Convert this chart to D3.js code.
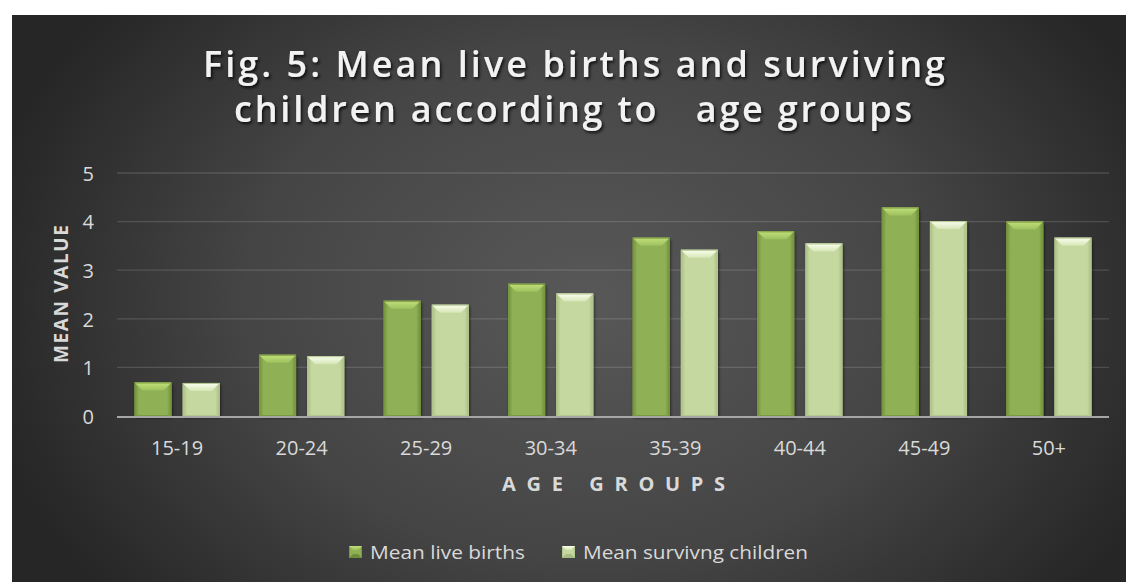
<!DOCTYPE html>
<html><head><meta charset="utf-8">
<script src="https://cdn.jsdelivr.net/npm/d3@7"></script>
<style>
html,body{margin:0;padding:0;background:#fff;}
svg{display:block;}
</style></head>
<body>
<svg id="chart" width="1126" height="582"></svg>
<script>
const categories = ["15-19","20-24","25-29","30-34","35-39","40-44","45-49","50+"];
const liveBirths = [0.69, 1.26, 2.37, 2.72, 3.67, 3.80, 4.29, 4.00];
const survivingChildren = [0.68, 1.23, 2.29, 2.52, 3.42, 3.55, 4.01, 3.67];
const seriesNames = ["Mean live births", "Mean survivng children"];
const yTicks = [0,1,2,3,4,5];
const titleLines = ["Fig. 5: Mean live births and surviving", "children according to   age groups"];

const svg = d3.select("#chart");
const W = 1126, H = 582;
const bg = {x:12, y:15, w:W-12, h:H-15};
const plot = {left:117, right:1109, top:173, bottom:416};

const defs = svg.append("defs");
const rg = defs.append("radialGradient").attr("id","bgGrad")
  .attr("gradientUnits","userSpaceOnUse").attr("cx",590).attr("cy",300).attr("r",620)
  .attr("gradientTransform","translate(590,300) scale(1,0.75) translate(-590,-300)");
rg.append("stop").attr("offset","0").attr("stop-color","#585858");
rg.append("stop").attr("offset","0.55").attr("stop-color","#454545");
rg.append("stop").attr("offset","1").attr("stop-color","#262626");

function barGrads(id, edge, mid, topHi, topLo){
  const g = defs.append("linearGradient").attr("id",id).attr("x1","0").attr("x2","1").attr("y1","0").attr("y2","0");
  g.append("stop").attr("offset","0").attr("stop-color",edge);
  g.append("stop").attr("offset","0.12").attr("stop-color",mid);
  g.append("stop").attr("offset","0.88").attr("stop-color",mid);
  g.append("stop").attr("offset","1").attr("stop-color",edge);
  const t = defs.append("linearGradient").attr("id",id+"Top").attr("x1","0").attr("x2","0").attr("y1","0").attr("y2","1");
  t.append("stop").attr("offset","0").attr("stop-color",topHi);
  t.append("stop").attr("offset","1").attr("stop-color",topLo);
}
barGrads("g0","#6f8d3a","#8fb054","#c2e07a","#9ec15e");
barGrads("g1","#a7bb82","#c4d89f","#fbfff0","#d6e6b6");

const shadow = defs.append("filter").attr("id","tshadow").attr("x","-10%").attr("y","-30%").attr("width","120%").attr("height","160%");
shadow.append("feDropShadow").attr("dx",1.5).attr("dy",2).attr("stdDeviation",1.5).attr("flood-color","#000").attr("flood-opacity",0.8);
const bshadow = defs.append("filter").attr("id","bshadow").attr("x","-20%").attr("y","-10%").attr("width","140%").attr("height","120%");
bshadow.append("feDropShadow").attr("dx",1).attr("dy",2).attr("stdDeviation",1.5).attr("flood-color","#000").attr("flood-opacity",0.55);

svg.append("rect").attr("x",bg.x).attr("y",bg.y).attr("width",bg.w).attr("height",bg.h).attr("fill","url(#bgGrad)");

// Title
const title = svg.append("g").attr("filter","url(#tshadow)");
title.append("text").attr("x",203).attr("y",77)
  .attr("font-family","Open Sans").attr("font-weight",600).attr("font-size",36)
  .attr("fill","#f2f2f2").attr("textLength",742).attr("lengthAdjust","spacing").text(titleLines[0]);
title.append("text").attr("x",234).attr("y",122)
  .attr("font-family","Open Sans").attr("font-weight",600).attr("font-size",36)
  .attr("fill","#f2f2f2").attr("textLength",678).attr("lengthAdjust","spacing").attr("xml:space","preserve").text(titleLines[1]);

const x = d3.scaleBand().domain(categories).range([plot.left, plot.right]).paddingInner(0.315).paddingOuter(0.14);
const xs = d3.scaleBand().domain([0,1]).range([0, x.bandwidth()]).paddingInner(0.23);
const y = d3.scaleLinear().domain([0,5]).range([plot.bottom, plot.top]);

// gridlines
svg.append("g").selectAll("line").data(yTicks.filter(d=>d>0)).join("line")
  .attr("x1",plot.left).attr("x2",plot.right).attr("y1",d=>y(d)).attr("y2",d=>y(d))
  .attr("stroke","#ffffff").attr("stroke-opacity",0.14).attr("stroke-width",1.3);

// y axis labels
const yAxis = d3.axisLeft(y).tickValues(yTicks).tickSize(0).tickPadding(0).tickFormat(d3.format("d"));
const ya = svg.append("g").attr("transform",`translate(${plot.left-23},0)`).call(yAxis);
ya.select(".domain").remove();
ya.selectAll("text").attr("font-family","Open Sans").attr("font-size",20).attr("fill","#d9d9d9").attr("dy","0.36em");

// bars
const data = categories.map((c,i)=>({c, vals:[liveBirths[i], survivingChildren[i]]}));
const groups = svg.append("g").selectAll("g").data(data).join("g")
  .attr("transform",d=>`translate(${x(d.c)},0)`);
groups.each(function(d){
  const g = d3.select(this);
  d.vals.forEach((v,k)=>{
    const bx = xs(k), bw = xs.bandwidth(), by = y(v), bh = y(0)-y(v);
    const bev = Math.min(8, bh/2);
    const b = g.append("g");
    b.append("rect").attr("x",bx).attr("y",by).attr("width",bw).attr("height",bh)
      .attr("fill",`url(#g${k})`).attr("filter","url(#bshadow)");
    b.append("path").attr("d",`M${bx},${by}L${bx+bw},${by}L${bx+bw-bev},${by+bev}L${bx+bev},${by+bev}Z`)
      .attr("fill",`url(#g${k}Top)`);
    b.append("rect").attr("x",bx+0.5).attr("y",by+0.5).attr("width",bw-1).attr("height",bh-1)
      .attr("fill","none").attr("stroke",k===0?"#7a9a40":"#b3c78e").attr("stroke-width",1);
  });
});

// zero axis line
svg.append("line").attr("x1",plot.left).attr("x2",plot.right).attr("y1",y(0)+1).attr("y2",y(0)+1)
  .attr("stroke","#a6a6a6").attr("stroke-width",2.2);

// x axis labels
const xAxis = d3.axisBottom(x).tickSize(0).tickPadding(0);
const xa = svg.append("g").attr("transform",`translate(0,${plot.bottom+39})`).call(xAxis);
xa.select(".domain").remove();
xa.selectAll("text").attr("font-family","Open Sans").attr("font-size",20).attr("fill","#d9d9d9").attr("dy","0");

// axis titles
svg.append("text").attr("x",502).attr("y",491)
  .attr("font-family","Open Sans").attr("font-weight","bold").attr("font-size",20)
  .attr("fill","#d9d9d9").attr("textLength",223).attr("lengthAdjust","spacing").text("AGE GROUPS");
svg.append("text").attr("transform","translate(68,294) rotate(-90)").attr("text-anchor","middle")
  .attr("font-family","Open Sans").attr("font-weight","bold").attr("font-size",19)
  .attr("fill","#d9d9d9").attr("textLength",138).attr("lengthAdjust","spacing").text("MEAN VALUE");

// legend
const legendX = [349, 562];
const legendW = [155, 225];
const lg = svg.append("g").selectAll("g").data(seriesNames).join("g")
  .attr("transform",(d,i)=>`translate(${legendX[i]},546)`);
lg.append("rect").attr("width",13).attr("height",12).attr("fill",(d,i)=>`url(#g${i})`);
lg.append("path").attr("d","M0,0L13,0L9,4L4,4Z").attr("fill",(d,i)=>`url(#g${i}Top)`);
lg.append("path").attr("d","M0,12L13,12L9,8L4,8Z").attr("fill",(d,i)=>i===0?"#6f8d3a":"#a7bb82");
lg.append("text").attr("x",21).attr("y",13).attr("font-family","Open Sans").attr("font-size",19)
  .attr("fill","#d9d9d9").attr("textLength",(d,i)=>legendW[i]).attr("lengthAdjust","spacingAndGlyphs").text(d=>d);
</script>
</body></html>
